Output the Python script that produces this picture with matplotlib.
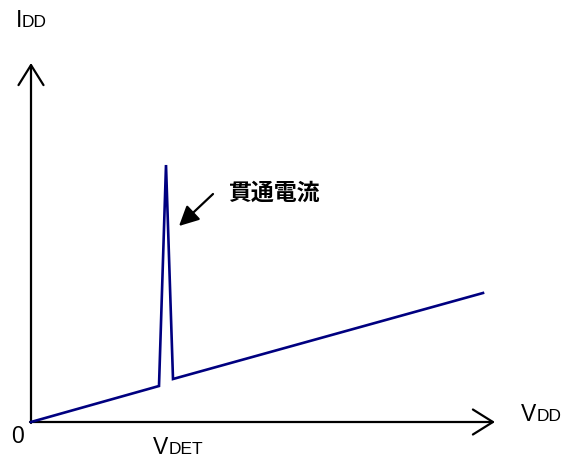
import matplotlib
matplotlib.use("Agg")
import matplotlib.pyplot as plt

# data (units: roughly pixels from the origin)
vdd = [0, 128, 135, 142, 452]
idd = [0, 36, 257, 43, 129]
x_axis_end = 464
y_axis_end = 359

note_text = "貫通電流"
note_tail = (182, 228)
note_head = (148, 196)

plt.rcParams["font.family"] = ["Liberation Sans", "DejaVu Sans"]

fig = plt.figure(figsize=(5.63, 4.59), dpi=100)
ax = fig.add_axes([0, 0, 1, 1])
ax.set_xlim(-31, 532)
ax.set_ylim(-37, 422)
ax.axis("off")

# axes with open arrow heads
axis_arrow = dict(arrowstyle="->,head_length=0.72,head_width=0.45",
                  mutation_scale=20, lw=1.6, color="black",
                  shrinkA=0, shrinkB=0)
ax.annotate("", xy=(x_axis_end, 0), xytext=(-1, 0), arrowprops=axis_arrow)
ax.annotate("", xy=(0, y_axis_end), xytext=(0, -1), arrowprops=axis_arrow)

# current curve
ax.plot(vdd, idd, color="#000080", lw=1.9, solid_joinstyle="miter", zorder=3)

# annotation arrow + label
ax.annotate("", xy=note_head, xytext=note_tail,
            arrowprops=dict(arrowstyle="-|>,head_length=0.6,head_width=0.3",
                            mutation_scale=20, lw=1.6, color="black",
                            shrinkA=0, shrinkB=0))
ax.text(197, 229, note_text, fontsize=16.5, fontweight="bold", va="center",
        ha="left", family=["Noto Sans CJK JP", "DejaVu Sans"])

# axis labels (large first letter, small caps rest)
big, small = 16.5, 12.5
ax.text(490, 1, "V", fontsize=big, va="baseline", ha="left")
ax.text(506, 1, "DD", fontsize=small, va="baseline", ha="left")
ax.text(122, -32, "V", fontsize=big, va="baseline", ha="left")
ax.text(138, -32, "DET", fontsize=small, va="baseline", ha="left")
ax.text(-15, 395, "I", fontsize=big, va="baseline", ha="left")
ax.text(-9, 395, "DD", fontsize=small, va="baseline", ha="left")
ax.text(-20, -21, "0", fontsize=big, va="baseline", ha="left")

fig.savefig("out.png", dpi=100)
